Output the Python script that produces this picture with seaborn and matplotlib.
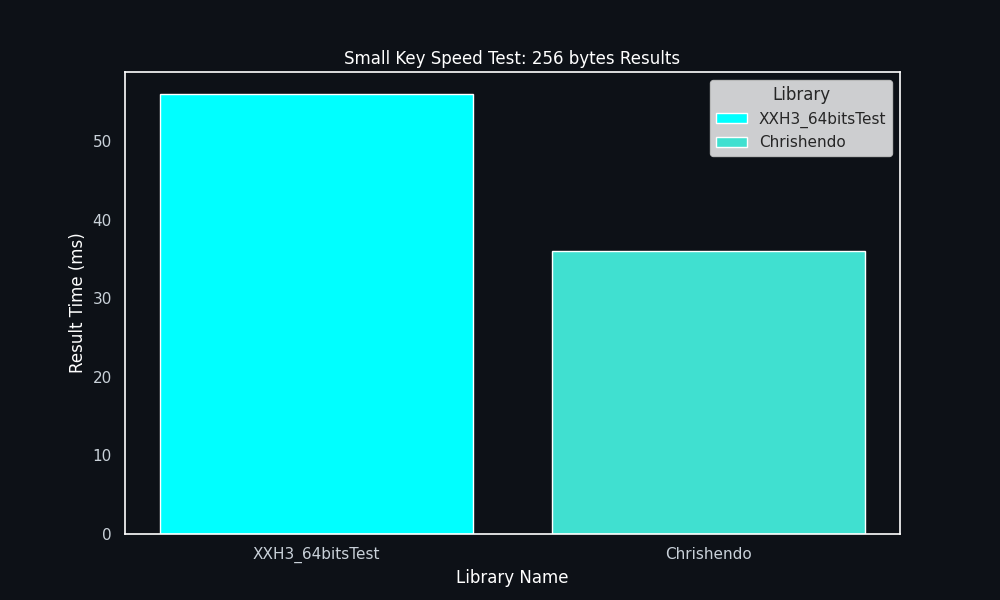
import matplotlib
matplotlib.use("Agg")
import matplotlib.pyplot as plt
import seaborn as sb
import pandas as pd

LIBRARIES = ['XXH3_64bitsTest', 'Chrishendo']
RESULT_MS = [56, 36]
COLORS = ['#00FFFF', '#40E0D0']
BG = '#0d1117'

sb.set_theme(style="ticks", context="notebook")
plt.rcParams['font.family'] = ['DejaVu Sans']

df = pd.DataFrame({'Library Name': LIBRARIES, 'Result Time (ms)': RESULT_MS})

fig, ax = plt.subplots(figsize=(10, 6), dpi=100)
fig.patch.set_facecolor(BG)
ax.set_facecolor(BG)

sb.barplot(data=df, x='Library Name', y='Result Time (ms)', hue='Library Name',
           palette=dict(zip(LIBRARIES, COLORS)), edgecolor='white', linewidth=1,
           saturation=1, legend=False, ax=ax)
# let matplotlib pick the x range (5% margins) like a plain bar chart
ax.autoscale(enable=True, axis='x')

# legend built from the same colours
handles = [plt.Rectangle((0, 0), 1, 1, facecolor=c, edgecolor='white') for c in COLORS]
leg = ax.legend(handles, LIBRARIES, title='Library', loc='upper right',
                framealpha=0.8, facecolor='white', edgecolor='#cccccc')
for t in leg.get_texts():
    t.set_color('#262626')
leg.get_title().set_color('#262626')

ax.set_title('Small Key Speed Test: 256 bytes Results', color='white')
ax.set_xlabel('Library Name', color='white')
ax.set_ylabel('Result Time (ms)', color='white')
# ticks are there (they push the labels out) but not visible
ax.tick_params(color=BG, labelcolor='#c9d1d9')
for sp in ax.spines.values():
    sp.set_color('white')
    sp.set_linewidth(1.2)

plt.savefig('out.png', dpi=100, facecolor=BG)
